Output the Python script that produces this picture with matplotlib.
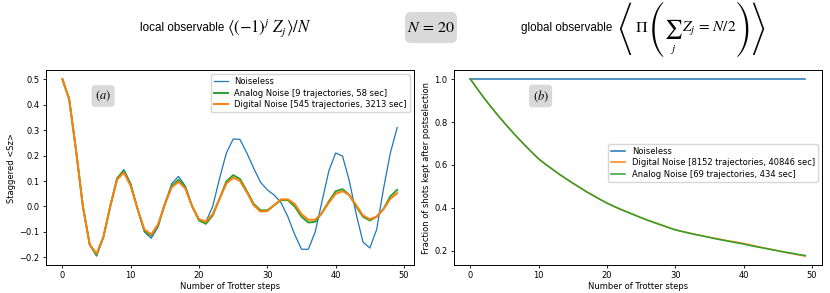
import matplotlib
matplotlib.use("Agg")
import matplotlib.pyplot as plt
from matplotlib.patches import FancyBboxPatch

plt.rcParams['mathtext.fontset'] = 'stix'

steps = list(range(50))

# panel (a): staggered magnetisation
noiseless_a = [0.5, 0.425, 0.22, 0.0, -0.15, -0.195, -0.12, 0.0, 0.11, 0.145,
               0.09, -0.01, -0.10, -0.125, -0.08, 0.01, 0.09, 0.118, 0.08, 0.0,
               -0.05, -0.06, 0.0, 0.11, 0.21, 0.265, 0.263, 0.21, 0.15, 0.095,
               0.065, 0.045, 0.015, -0.04, -0.11, -0.168, -0.168, -0.10, 0.02, 0.14,
               0.21, 0.198, 0.10, -0.03, -0.14, -0.163, -0.09, 0.07, 0.21, 0.31]
analog_a = [0.5, 0.42, 0.22, 0.0, -0.15, -0.19, -0.12, 0.0, 0.11, 0.14,
            0.085, -0.01, -0.095, -0.115, -0.075, 0.01, 0.08, 0.105, 0.075, 0.0,
            -0.055, -0.068, -0.035, 0.03, 0.098, 0.123, 0.108, 0.06, 0.01, -0.015,
            -0.015, 0.005, 0.025, 0.025, 0.0, -0.04, -0.063, -0.06, -0.025, 0.02,
            0.06, 0.068, 0.045, 0.0, -0.04, -0.055, -0.04, -0.01, 0.04, 0.065]
digital_a = [0.5, 0.42, 0.22, 0.0, -0.15, -0.185, -0.12, 0.0, 0.105, 0.133,
             0.08, -0.01, -0.09, -0.11, -0.07, 0.01, 0.075, 0.097, 0.07, 0.0,
             -0.05, -0.06, -0.03, 0.03, 0.09, 0.113, 0.10, 0.055, 0.005, -0.02,
             -0.018, 0.005, 0.028, 0.028, 0.01, -0.03, -0.052, -0.052, -0.025, 0.015,
             0.05, 0.06, 0.045, 0.005, -0.035, -0.05, -0.04, -0.01, 0.03, 0.052]

# panel (b): fraction of shots kept
noiseless_b = [1.0] * 50
digital_b = [1.0, 0.955, 0.912, 0.871, 0.832, 0.795, 0.759, 0.724, 0.691, 0.659,
             0.628, 0.603, 0.580, 0.557, 0.535, 0.515, 0.495, 0.475, 0.457, 0.439,
             0.422, 0.407, 0.393, 0.380, 0.367, 0.354, 0.342, 0.331, 0.320, 0.309,
             0.298, 0.290, 0.283, 0.276, 0.269, 0.263, 0.257, 0.251, 0.245, 0.240,
             0.234, 0.227, 0.220, 0.213, 0.207, 0.200, 0.193, 0.187, 0.181, 0.175]
analog_b = [1.0, 0.955, 0.912, 0.871, 0.832, 0.795, 0.759, 0.724, 0.691, 0.659,
            0.628, 0.603, 0.580, 0.557, 0.536, 0.515, 0.495, 0.475, 0.457, 0.439,
            0.422, 0.407, 0.393, 0.380, 0.367, 0.354, 0.342, 0.330, 0.319, 0.308,
            0.297, 0.290, 0.282, 0.275, 0.269, 0.262, 0.255, 0.249, 0.243, 0.237,
            0.231, 0.224, 0.218, 0.212, 0.206, 0.200, 0.194, 0.189, 0.183, 0.178]

W, H = 830, 293
fig = plt.figure(figsize=(W / 100, H / 100), dpi=100)
ax1 = fig.add_axes([0.055, 0.0956, 0.4437, 0.6645])
ax2 = fig.add_axes([0.5466, 0.0956, 0.4437, 0.6645])

fs = 6.0
box = dict(boxstyle='round,pad=0.28', fc='#d9d9d9', ec='none')

ax1.plot(steps, noiseless_a, color='tab:blue', lw=0.9, label='Noiseless')
ax1.plot(steps, analog_a, color='tab:green', lw=1.4, label='Analog Noise [9 trajectories, 58 sec]')
ax1.plot(steps, digital_a, color='tab:orange', lw=1.4, label='Digital Noise [545 trajectories, 3213 sec]')
ax1.set_xlabel('Number of Trotter steps', fontsize=fs, labelpad=1.5)
ax1.set_ylabel('Staggered <Sz>', fontsize=fs, labelpad=2)
ax1.tick_params(labelsize=fs, length=2.5, width=0.6, pad=2)
ax1.legend(loc='upper right', fontsize=fs, handlelength=1.7, borderpad=0.35, labelspacing=0.3)
ax1.text(0.156, 0.868, '$(a)$', transform=ax1.transAxes, fontsize=9, ha='center', va='center', bbox=box)

ax2.plot(steps, noiseless_b, color='tab:blue', lw=1.1, label='Noiseless')
ax2.plot(steps, digital_b, color='tab:orange', lw=1.1, label='Digital Noise [8152 trajectories, 40846 sec]')
ax2.plot(steps, analog_b, color='tab:green', lw=1.1, label='Analog Noise [69 trajectories, 434 sec]')
ax2.set_xlabel('Number of Trotter steps', fontsize=fs, labelpad=1.5)
ax2.set_ylabel('Fraction of shots kept after postselection', fontsize=fs, labelpad=2)
ax2.set_yticks([0.2, 0.4, 0.6, 0.8, 1.0])
ax2.tick_params(labelsize=fs, length=2.5, width=0.6, pad=2)
ax2.legend(loc='center right', bbox_to_anchor=(1.0, 0.525), fontsize=fs, handlelength=1.7,
           borderpad=0.35, labelspacing=0.3)
ax2.text(0.236, 0.868, '$(b)$', transform=ax2.transAxes, fontsize=9, ha='center', va='center', bbox=box)

for ax in (ax1, ax2):
    for sp in ax.spines.values():
        sp.set_linewidth(0.7)


# header, positions given in pixels from the top-left corner
def put(x, y, s, **kw):
    fig.text(x / W, 1 - y / H, s, **kw)


sans = ['Liberation Sans', 'DejaVu Sans']
big = ['STIXSizeFourSym', 'STIXGeneral']

put(140, 28, 'local observable', fontsize=8.4, family=sans, va='center')
put(227, 28, r'$\langle(-1)^j\ Z_j\rangle/N$', fontsize=12, va='center')

fig.add_artist(FancyBboxPatch((4.05, (H - 43) / 100), 0.52, 0.31,
                              boxstyle='round,pad=0,rounding_size=0.06',
                              fc='#d9d9d9', ec='none', transform=fig.dpi_scale_trans))
put(431, 28, r'$N\,=\,20$', fontsize=11.5, ha='center', va='center')

put(521, 28, 'global observable', fontsize=8.4, family=sans, va='center')
put(625, 28.5, '\u27e8', fontsize=12, family=big, ha='center', va='center')
put(642, 28, r'$\Pi$', fontsize=11.5, ha='center', va='center')
put(657, 29, '(', fontsize=13, family=big, ha='center', va='center')
put(673, 29, r'$\sum$', fontsize=14, ha='center', va='center')
put(673, 49, r'$j$', fontsize=8, ha='center', va='center')
put(682, 29, r'$Z_j\,=\,N/2$', fontsize=11, ha='left', va='center')
put(743, 29, ')', fontsize=13, family=big, ha='center', va='center')
put(758, 28.5, '\u27e9', fontsize=12, family=big, ha='center', va='center')

fig.savefig('out.png', dpi=100)
